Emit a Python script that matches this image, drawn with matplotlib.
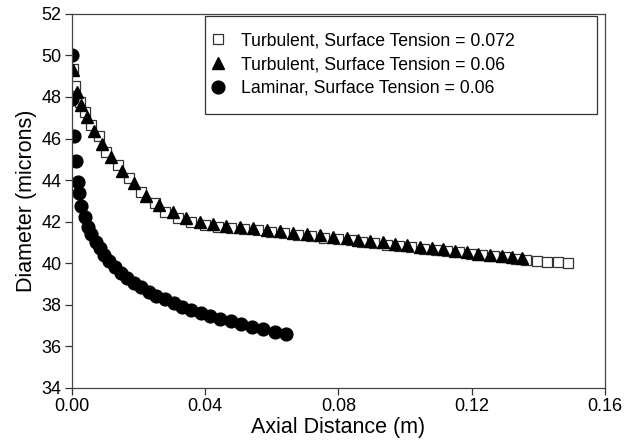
import numpy as np
import matplotlib
matplotlib.use('Agg')
import matplotlib.pyplot as plt
from matplotlib.patches import Rectangle
from matplotlib.ticker import FormatStrFormatter

plt.rcParams['font.family'] = ['Liberation Sans', 'DejaVu Sans']

# turbulent, surface tension 0.072 (open squares)
x_sq = [0.0003, 0.0010, 0.0025, 0.0039, 0.0058, 0.0082, 0.0103, 0.0138, 0.0173, 0.0209,
        0.0250, 0.0279, 0.0319, 0.0359, 0.0399, 0.0438, 0.0478, 0.0518, 0.0558, 0.0598,
        0.0638, 0.0678, 0.0718, 0.0758, 0.0798, 0.0838, 0.0872, 0.0908, 0.0947, 0.0983,
        0.1018, 0.1057, 0.1092, 0.1127, 0.1162, 0.1197, 0.1232, 0.1267, 0.1300, 0.1332,
        0.1362, 0.1395, 0.1425, 0.1460, 0.1490]
y_sq = [49.35, 48.52, 47.78, 47.30, 46.66, 46.10, 45.37, 44.73, 44.09, 43.45,
        42.89, 42.49, 42.17, 42.00, 41.85, 41.76, 41.70, 41.64, 41.58, 41.51,
        41.44, 41.37, 41.30, 41.23, 41.16, 41.10, 41.04, 40.97, 40.90, 40.84,
        40.78, 40.71, 40.65, 40.58, 40.52, 40.46, 40.40, 40.34, 40.28, 40.22,
        40.16, 40.11, 40.08, 40.05, 40.02]

# turbulent, surface tension 0.06 (filled triangles)
x_tri = [0.0004, 0.0016, 0.0029, 0.0047, 0.0067, 0.0091, 0.0119, 0.0151, 0.0187, 0.0224,
         0.0261, 0.0304, 0.0344, 0.0384, 0.0424, 0.0464, 0.0504, 0.0544, 0.0585, 0.0624,
         0.0664, 0.0705, 0.0744, 0.0784, 0.0825, 0.0859, 0.0895, 0.0935, 0.0970, 0.1005,
         0.1045, 0.1080, 0.1115, 0.1150, 0.1185, 0.1220, 0.1255, 0.1290, 0.1320, 0.1350]
y_tri = [49.30, 48.26, 47.62, 47.03, 46.38, 45.74, 45.10, 44.46, 43.85, 43.26,
         42.82, 42.49, 42.20, 42.01, 41.89, 41.80, 41.74, 41.69, 41.62, 41.55,
         41.48, 41.41, 41.34, 41.27, 41.20, 41.14, 41.07, 41.00, 40.93, 40.87,
         40.80, 40.73, 40.67, 40.60, 40.54, 40.47, 40.41, 40.35, 40.29, 40.24]

# laminar, surface tension 0.06 (filled circles)
x_lam = [0.0000, 0.0000, 0.0006, 0.0012, 0.0019, 0.0022, 0.0029, 0.0039, 0.0049, 0.0059,
         0.0072, 0.0084, 0.0096, 0.0112, 0.0129, 0.0147, 0.0166, 0.0186, 0.0207, 0.0231,
         0.0254, 0.0281, 0.0306, 0.0332, 0.0359, 0.0387, 0.0416, 0.0446, 0.0477, 0.0509,
         0.0541, 0.0574, 0.0609, 0.0644]
y_lam = [50.03, 47.91, 46.13, 44.94, 43.93, 43.37, 42.76, 42.25, 41.76, 41.41,
         41.04, 40.72, 40.40, 40.11, 39.84, 39.55, 39.31, 39.07, 38.85, 38.64,
         38.44, 38.27, 38.08, 37.91, 37.76, 37.60, 37.47, 37.34, 37.21, 37.08,
         36.95, 36.83, 36.71, 36.60]

labels = ['Turbulent, Surface Tension = 0.072',
          'Turbulent, Surface Tension = 0.06',
          'Laminar, Surface Tension = 0.06']

fig = plt.figure(figsize=(6.41, 4.47), dpi=100)
ax = fig.add_axes([0.112, 0.132, 0.832, 0.837])

ax.plot(x_sq, y_sq, 's', ms=7.5, mfc='white', mec='#333333', mew=0.9, label=labels[0])
ax.plot(x_tri, y_tri, '^', ms=8.5, color='black', label=labels[1])
ax.plot(x_lam, y_lam, 'o', ms=9.2, color='black', label=labels[2])

ax.set_xlim(0, 0.16)
ax.set_ylim(34, 52)
ax.set_xticks(np.arange(0, 0.161, 0.04))
ax.set_yticks(np.arange(34, 52.1, 2))
ax.xaxis.set_major_formatter(FormatStrFormatter('%.2f'))
ax.tick_params(direction='out', length=5, width=0.9, colors='#333333',
               labelcolor='black', labelsize=13, pad=2.5)
for s in ax.spines.values():
    s.set_color('#444444')
    s.set_linewidth(0.9)

ax.set_xlabel('Axial Distance (m)', fontsize=15.5, labelpad=1)
ax.set_ylabel('Diameter (microns)', fontsize=15.5, labelpad=3)

# legend frame is wider than its entries, so draw it separately
ax.add_patch(Rectangle((0.2495, 0.733), 0.7355, 0.262, transform=ax.transAxes,
                       facecolor='white', edgecolor='#333333', lw=0.9, zorder=4))
leg = ax.legend(loc='upper left', bbox_to_anchor=(0.257, 0.951), fontsize=12.7,
                frameon=False, borderpad=0, borderaxespad=0,
                handlelength=1.0, handletextpad=0.8, labelspacing=0.39)
leg.set_zorder(5)

fig.savefig('out.png', dpi=100)
